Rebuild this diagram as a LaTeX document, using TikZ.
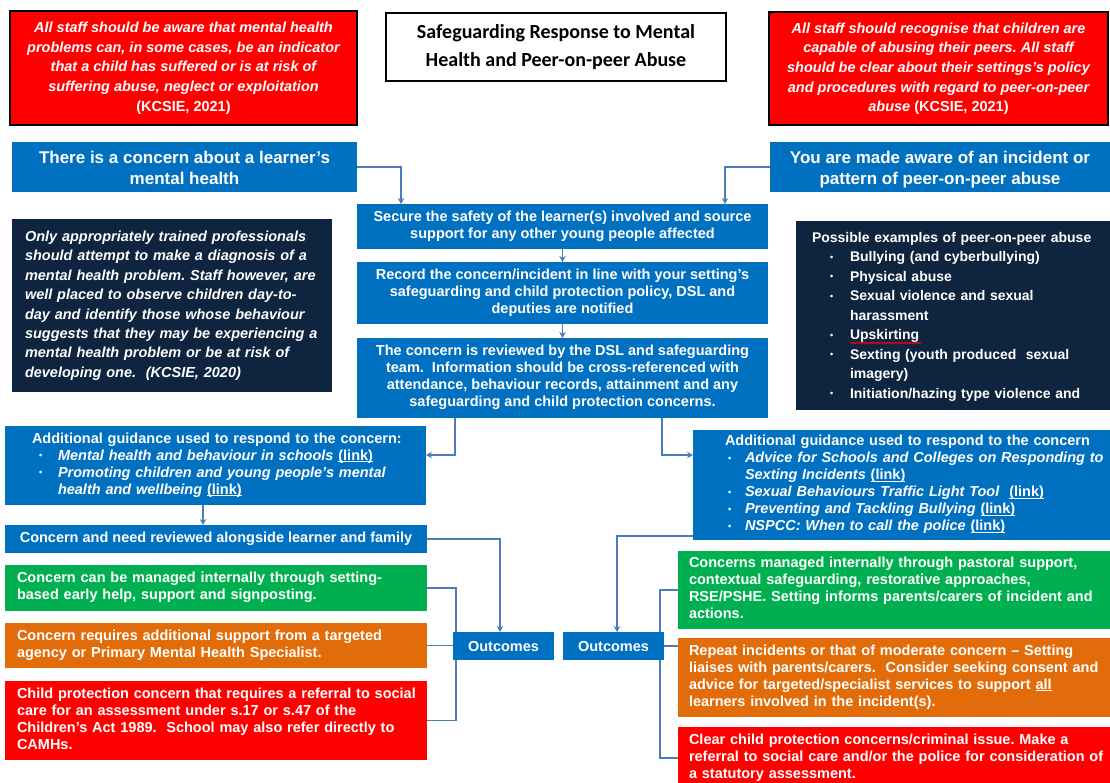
\documentclass[tikz,border=0pt]{standalone}
\usepackage{fontspec}
\setmainfont{Liberation Sans}
\newfontfamily\titlefont{Carlito}
\usetikzlibrary{arrows.meta,backgrounds,decorations.pathmorphing}
\definecolor{cblue}{HTML}{0070C0}
\definecolor{cred}{HTML}{FF0000}
\definecolor{cgreen}{HTML}{00B050}
\definecolor{corange}{HTML}{E36C0A}
\definecolor{cnavy}{HTML}{0F243E}
\definecolor{cline}{HTML}{4A7EBB}
\newcommand\bulitem[2]{\hspace*{#1}\makebox[#2][l]{\raisebox{1.8pt}{\fontsize{9}{9}\selectfont •}}}
\newcommand\ulin[1]{\setbox0\hbox{#1}\rlap{\rule[-1.6pt]{\wd0}{0.8pt}}\box0}
\newcommand\lnk{\ulin{(link)}}
\frenchspacing
\begin{document}
\begin{tikzpicture}[x=1pt,y=-1pt,
  box/.style={anchor=north west, inner sep=0pt, outer sep=0pt, text=white,
    font=\bfseries\fontsize{14.5}{17}\selectfont},
  conn/.style={draw=cline, line width=1.5pt},
  arr/.style={conn, -{Stealth[length=6pt,width=6.5pt]}},
]
\useasboundingbox (0,0) rectangle (1110,782);
\clip (0,0) rectangle (1110,782);

% top row
\node[box, fill=cred, draw=black, line width=2pt, minimum width=347pt, minimum height=114pt,
  font=\bfseries\itshape\fontsize{14.5}{19.7}\selectfont] (warnL) at (10,11)
  {\begin{tabular}{@{}c@{}}All staff should be aware that mental health\\
   problems can, in some cases, be an indicator\\
   that a child has suffered or is at risk of\\
   suffering abuse, neglect or exploitation\\
   {\upshape(KCSIE, 2021)}\end{tabular}};
\node[box, fill=white, text=black, draw=black, line width=1.5pt, minimum width=340pt, minimum height=68pt,
  font=\titlefont\bfseries\fontsize{20}{28}\selectfont] (title) at (386,13)
  {\begin{tabular}{@{}c@{}}Safeguarding Response to Mental\\Health and Peer-on-peer Abuse\end{tabular}};
\node[box, fill=cred, draw=black, line width=2pt, minimum width=339pt, minimum height=113pt,
  font=\bfseries\itshape\fontsize{14.5}{19.7}\selectfont] (warnR) at (769,12)
  {\begin{tabular}{@{}c@{}}All staff should recognise that children are\\
   capable of abusing their peers. All staff\\
   should be clear about their settings’s policy\\
   and procedures with regard to peer-on-peer\\
   abuse {\upshape(KCSIE, 2021)}\end{tabular}};

% headers
\node[box, fill=cblue, minimum width=345pt, minimum height=50pt,
  font=\bfseries\fontsize{17}{21}\selectfont] (headL) at (12,142)
  {\begin{tabular}{@{}c@{}}\rule{0pt}{20.7pt}There is a concern about a learner’s\\mental health\end{tabular}};
\node[box, fill=cblue, minimum width=340pt, minimum height=50pt,
  font=\bfseries\fontsize{17}{21}\selectfont] (headR) at (770,142)
  {\begin{tabular}{@{}c@{}}\rule{0pt}{20.7pt}You are made aware of an incident or\\pattern of peer-on-peer abuse\end{tabular}};

% centre column
\node[box, fill=cblue, minimum width=411pt, minimum height=45pt] (secure) at (357,204)
  {\begin{tabular}{@{}c@{}}Secure the safety of the learner(s) involved and source\\support for any other young people affected\end{tabular}};
\node[box, fill=cblue, minimum width=411pt, minimum height=62pt] (record) at (357,262)
  {\begin{tabular}{@{}c@{}}Record the concern/incident in line with your setting’s\\safeguarding and child protection policy, DSL and\\deputies are notified\end{tabular}};
\node[box, fill=cblue, minimum width=411pt, minimum height=80pt] (review) at (357,338)
  {\begin{tabular}{@{}c@{}}The concern is reviewed by the DSL and safeguarding\\team.\ \ Information should be cross-referenced with\\attendance, behaviour records, attainment and any\\safeguarding and child protection concerns.\end{tabular}};

% dark boxes
\node[box, fill=cnavy, align=left, text width=294pt, inner xsep=13pt, minimum height=173pt,
  font=\bfseries\itshape\fontsize{14.5}{19.4}\selectfont] (darkL) at (12,219)
  {\begin{tabular}{@{}l@{}}Only appropriately trained professionals\\
   should attempt to make a diagnosis of a\\
   mental health problem. Staff however, are\\
   well placed to observe children day-to-\\
   day and identify those whose behaviour\\
   suggests that they may be experiencing a\\
   mental health problem or be at risk of\\
   developing one.\ \ (KCSIE, 2020)\end{tabular}};
\node[box, fill=cnavy, align=left, text width=282pt, inner xsep=16pt, minimum height=189pt,
  font=\bfseries\fontsize{14}{19.5}\selectfont] (darkR) at (796,221)
  {\begin{tabular}{@{}l@{}}Possible examples of peer-on-peer abuse\\
   \bulitem{18pt}{20pt}Bullying (and cyberbullying)\\
   \bulitem{18pt}{20pt}Physical abuse\\
   \bulitem{18pt}{20pt}Sexual violence and sexual\\
   \hspace*{38pt}harassment\\
   \bulitem{18pt}{20pt}Upskirting\\
   \bulitem{18pt}{20pt}Sexting (youth produced\ \ sexual\\
   \hspace*{38pt}imagery)\\
   \bulitem{18pt}{20pt}Initiation/hazing type violence and\\[-2pt]\end{tabular}};
\draw[red, line width=0.8pt, decorate, decoration={snake, amplitude=0.8pt, segment length=3pt}]
  ([xshift=54pt,yshift=-122pt]darkR.north west) -- ([xshift=126pt,yshift=-122pt]darkR.north west);

% guidance boxes
\node[box, fill=cblue, align=left, text width=367pt, inner xsep=27pt, minimum height=79pt] (guideL) at (5,426)
  {\begin{tabular}{@{}l@{}}Additional guidance used to respond to the concern:\\
   \bulitem{7pt}{19pt}\textit{Mental health and behaviour in schools} \lnk\\
   \bulitem{7pt}{19pt}\textit{Promoting children and young people’s mental}\\
   \hspace*{26pt}\textit{health and wellbeing} \lnk\end{tabular}};
\node[box, fill=cblue, align=left, text width=353pt, inner xsep=32pt, minimum height=110pt] (guideR) at (693,430)
  {\begin{tabular}{@{}l@{}}Additional guidance used to respond to the concern\\
   \bulitem{3pt}{17pt}\textit{Advice for Schools and Colleges on Responding to}\\
   \hspace*{20pt}\textit{Sexting Incidents} \lnk\\
   \bulitem{3pt}{17pt}\textit{Sexual Behaviours Traffic Light Tool}\ \ \lnk\\
   \bulitem{3pt}{17pt}\textit{Preventing and Tackling Bullying} \lnk\\
   \bulitem{3pt}{17pt}\textit{NSPCC: When to call the police} \lnk\end{tabular}};

% left lower column
\node[box, fill=cblue, minimum width=422pt, minimum height=28pt] (needL) at (5,525)
  {Concern and need reviewed alongside learner and family};
\node[box, fill=cgreen, align=left, text width=398pt, inner xsep=12pt, minimum height=46pt] (greenL) at (5,565)
  {\begin{tabular}{@{}l@{}}Concern can be managed internally through setting-\\based early help, support and signposting.\end{tabular}};
\node[box, fill=corange, align=left, text width=398pt, inner xsep=12pt, minimum height=45pt] (orangeL) at (5,623)
  {\begin{tabular}{@{}l@{}}Concern requires additional support from a targeted\\agency or Primary Mental Health Specialist.\end{tabular}};
\node[box, fill=cred, align=left, text width=398pt, inner xsep=12pt, minimum height=79pt] (redLow) at (5,681)
  {\begin{tabular}{@{}l@{}}Child protection concern that requires a referral to social\\care for an assessment under s.17 or s.47 of the\\Children’s Act 1989.\ \ School may also refer directly to\\CAMHs.\end{tabular}};

% outcomes
\node[box, fill=cblue, minimum width=101pt, minimum height=28pt] (outL) at (453,632) {Outcomes};
\node[box, fill=cblue, minimum width=101pt, minimum height=28pt] (outR) at (563,632) {Outcomes};

% right lower column
\node[box, fill=cgreen, align=left, text width=410pt, inner xsep=11pt, minimum height=78pt] (greenR) at (678,551)
  {\begin{tabular}{@{}l@{}}Concerns managed internally through pastoral support,\\contextual safeguarding, restorative approaches,\\RSE/PSHE. Setting informs parents/carers of incident and\\actions.\end{tabular}};
\node[box, fill=corange, align=left, text width=410pt, inner xsep=11pt, minimum height=79pt] (orangeR) at (678,638)
  {\begin{tabular}{@{}l@{}}Repeat incidents or that of moderate concern – Setting\\liaises with parents/carers.\ \ Consider seeking consent and\\advice for targeted/specialist services to support \ulin{all}\\learners involved in the incident(s).\end{tabular}};
\node[box, fill=cred, align=left, text width=410pt, inner xsep=11pt, minimum height=62pt] (redRlow) at (678,727)
  {\begin{tabular}{@{}l@{}}Clear child protection concerns/criminal issue. Make a\\referral to social care and/or the police for consideration of\\a statutory assessment.\end{tabular}};

% connectors
\begin{scope}[on background layer]
\draw[arr] (headL.east) -| ([xshift=44pt]secure.north west);
\draw[arr] (headR.west) -| ([xshift=-43pt]secure.north east);
\draw[arr] (secure.south) -- (record.north);
\draw[arr] (record.south) -- (review.north);
\draw[arr] ([xshift=98pt]review.south west) |- ([yshift=10.5pt]guideL.east);
\draw[arr] ([xshift=-106pt]review.south east) |- ([yshift=30pt]guideR.west);
\draw[arr] ([xshift=198pt]guideL.south west) -- ([xshift=198pt]needL.north west);
\draw[arr] (needL.east) -| ([xshift=47pt]outL.north west);
\draw[arr] ([yshift=4pt]guideR.south west) -| ([xshift=54pt]outR.north west);
\draw[conn] (greenL.east) -- ++(29,0) |- (redLow.east);
\draw[conn] (orangeL.east) -- (orangeL.east -| outL.west);
\draw[conn] (greenR.west) -- ++(-18,0) |- (redRlow.west);
\draw[conn] (outR.east) -- (outR.east -| orangeR.west);
\end{scope}
\end{tikzpicture}
\end{document}
